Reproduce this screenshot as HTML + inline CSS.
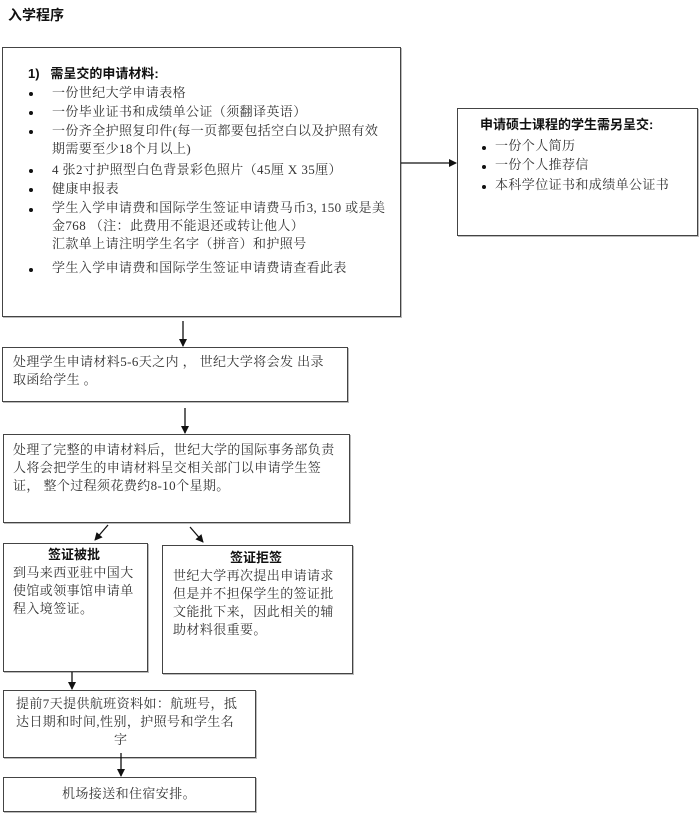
<!DOCTYPE html>
<html><head><meta charset="utf-8"><style>
body{margin:0;width:700px;height:813px;background:#fff;position:relative;overflow:hidden;font-family:"Liberation Serif","Noto Serif CJK SC",serif;font-size:13px;color:#333;letter-spacing:0.4px}
.b{position:absolute;border:1px solid #444;box-sizing:border-box;box-shadow:1px 1px 0 #bbb;overflow:hidden}
.t{position:absolute;white-space:nowrap;line-height:18px}
.dot{position:absolute;width:4px;height:4px;border-radius:2px;background:#111}
.bold{font-family:"Liberation Sans","Noto Sans CJK SC",sans-serif;font-weight:bold;color:#111;letter-spacing:0}
svg{position:absolute;left:0;top:0}
</style></head><body>
<div class="t bold" style="left:8px;top:6px;font-size:14px">入学程序</div>

<div class="b" style="left:2px;top:47px;width:399px;height:270px"></div>
<div class="t bold" style="left:28px;top:65px">1)&nbsp;&nbsp;&nbsp;需呈交的申请材料:</div>
<div class="dot" style="left:29px;top:92px"></div><div class="t" style="left:52px;top:84px">一份世纪大学申请表格</div>
<div class="dot" style="left:29px;top:111px"></div><div class="t" style="left:52px;top:103px">一份毕业证书和成绩单公证（须翻译英语）</div>
<div class="dot" style="left:29px;top:130px"></div><div class="t" style="left:52px;top:122px">一份齐全护照复印件(每一页都要包括空白以及护照有效<br>期需要至少18个月以上)</div>
<div class="dot" style="left:29px;top:169px"></div><div class="t" style="left:52px;top:161px">4 张2寸护照型白色背景彩色照片（45厘 X 35厘）</div>
<div class="dot" style="left:29px;top:188px"></div><div class="t" style="left:52px;top:180px">健康申报表</div>
<div class="dot" style="left:29px;top:208px"></div><div class="t" style="left:52px;top:199px">学生入学申请费和国际学生签证申请费马币3, 150 或是美<br>金768 （注：此费用不能退还或转让他人）<br>汇款单上请注明学生名字（拼音）和护照号</div>
<div class="dot" style="left:29px;top:268px"></div><div class="t" style="left:52px;top:259px">学生入学申请费和国际学生签证申请费请查看此表</div>

<div class="b" style="left:457px;top:108px;width:241px;height:128px"></div>
<div class="t bold" style="left:480px;top:116px">申请硕士课程的学生需另呈交:</div>
<div class="dot" style="left:482px;top:146px"></div><div class="t" style="left:495px;top:137px">一份个人简历</div>
<div class="dot" style="left:482px;top:165px"></div><div class="t" style="left:495px;top:156px">一份个人推荐信</div>
<div class="dot" style="left:482px;top:185px"></div><div class="t" style="left:495px;top:176px">本科学位证书和成绩单公证书</div>

<div class="b" style="left:2px;top:347px;width:346px;height:55px"></div>
<div class="t" style="left:13px;top:353px">处理学生申请材料5-6天之内 ， 世纪大学将会发 出录<br>取函给学生 。</div>

<div class="b" style="left:3px;top:434px;width:347px;height:89px"></div>
<div class="t" style="left:13px;top:441px">处理了完整的申请材料后，世纪大学的国际事务部负责<br>人将会把学生的申请材料呈交相关部门以申请学生签<br>证， 整个过程须花费约8-10个星期。</div>

<div class="b" style="left:3px;top:543px;width:145px;height:129px"></div>
<div class="t bold" style="left:48px;top:546px">签证被批</div>
<div class="t" style="left:13px;top:564px">到马来西亚驻中国大<br>使馆或领事馆申请单<br>程入境签证。</div>

<div class="b" style="left:162px;top:545px;width:191px;height:129px"></div>
<div class="t bold" style="left:230px;top:549px">签证拒签</div>
<div class="t" style="left:173px;top:567px">世纪大学再次提出申请请求<br>但是并不担保学生的签证批<br>文能批下来，因此相关的辅<br>助材料很重要。</div>

<div class="b" style="left:3px;top:690px;width:253px;height:68px"></div>
<div class="t" style="left:16px;top:695px;height:51px;overflow:hidden">提前7天提供航班资料如：航班号，抵<br>达日期和时间,性别，护照号和学生名<br><span style="padding-left:98px">字</span></div>

<div class="b" style="left:3px;top:777px;width:253px;height:35px"></div>
<div class="t" style="left:62px;top:785px">机场接送和住宿安排。</div>

<svg width="700" height="813">
<defs><marker id="a" markerWidth="8" markerHeight="8" refX="7" refY="4" orient="auto" markerUnits="userSpaceOnUse"><path d="M0,0 L8,4 L0,8z" fill="#111"/></marker></defs>
<g stroke="#111" stroke-width="1.3" fill="none" marker-end="url(#a)">
<line x1="401" y1="163" x2="456" y2="163"/>
<line x1="183" y1="321" x2="183" y2="346"/>
<line x1="185" y1="408" x2="185" y2="433"/>
<line x1="108" y1="525" x2="95" y2="540"/>
<line x1="190" y1="527" x2="203" y2="542"/>
<line x1="72" y1="672" x2="72" y2="689"/>
<line x1="121" y1="753" x2="121" y2="776"/>
</g></svg>
</body></html>
